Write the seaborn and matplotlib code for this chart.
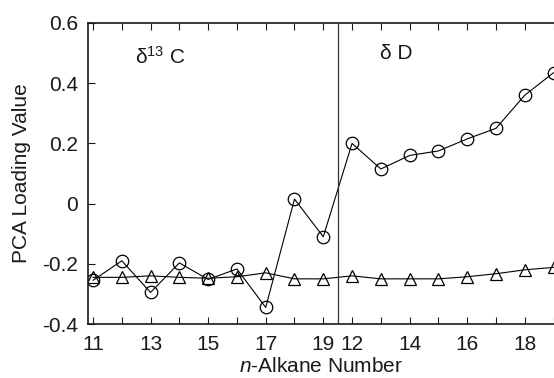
import matplotlib
matplotlib.use("Agg")
import matplotlib.pyplot as plt
import seaborn as sns
import pandas as pd
import numpy as np

# Data
c_numbers = [11, 12, 13, 14, 15, 16, 17, 18, 19]
d_numbers = [12, 13, 14, 15, 16, 17, 18, 19]
circle_c = [-0.255, -0.19, -0.295, -0.197, -0.252, -0.217, -0.345, 0.015, -0.11]
circle_d = [0.20, 0.115, 0.16, 0.175, 0.215, 0.25, 0.36, 0.435]
tri_c = [-0.245, -0.245, -0.24, -0.245, -0.248, -0.243, -0.23, -0.25, -0.25]
tri_d = [-0.24, -0.25, -0.25, -0.25, -0.243, -0.233, -0.22, -0.212]
tick_labels = ["11", "13", "15", "17", "19", "12", "14", "16", "18"]

sns.set_style("ticks")
plt.rcParams["font.family"] = ["Liberation Sans", "DejaVu Sans"]
plt.rcParams["mathtext.fontset"] = "custom"
plt.rcParams["mathtext.rm"] = "Liberation Sans"
plt.rcParams["mathtext.it"] = "Liberation Sans:italic"

labels_all = [str(n) for n in c_numbers] + [str(n) for n in d_numbers]
pos = np.arange(len(labels_all))
df = pd.DataFrame({
    "pos": np.concatenate([pos, pos]),
    "value": circle_c + circle_d + tri_c + tri_d,
    "series": ["circle"] * len(pos) + ["triangle"] * len(pos),
})

fig = plt.figure(figsize=(5.54, 3.78), dpi=100)
ax = fig.add_axes([88 / 554, 1 - 324 / 378, 1 - 88 / 554 + 0.001, (324 - 23) / 378])

for name, mk in [("circle", "o"), ("triangle", "^")]:
    sub = df[df["series"] == name]
    sns.lineplot(data=sub, x="pos", y="value", ax=ax, color="black", lw=0.8,
                 marker=mk, markersize=9, markerfacecolor="none",
                 markeredgecolor="black", markeredgewidth=0.9, legend=False)

ax.axvline(8.5, color="#333333", lw=0.9)

ax.set_xlim(-0.174, 16.035)
ax.set_ylim(-0.4, 0.6)
major = [0, 2, 4, 6, 8, 9, 11, 13, 15]
ax.set_xticks(major)
ax.set_xticklabels(tick_labels)
ax.set_xticks(pos, minor=True)
ax.set_yticks([-0.4, -0.2, 0, 0.2, 0.4, 0.6])
ax.set_yticklabels(["-0.4", "-0.2", "0", "0.2", "0.4", "0.6"])

ax.tick_params(axis="both", which="both", direction="in", length=5, width=0.8,
               labelsize=15, colors="#1a1a1a")
ax.tick_params(axis="x", which="both", top=True, pad=8)
ax.tick_params(axis="y", pad=7)
ax.spines["right"].set_visible(False)
for s in ["left", "bottom", "top"]:
    ax.spines[s].set_linewidth(1.2)
    ax.spines[s].set_color("#1a1a1a")

ax.set_xlabel("$n$-Alkane Number", fontsize=15, labelpad=2, color="#1a1a1a")
ax.set_ylabel("PCA Loading Value", fontsize=15, labelpad=8, color="#1a1a1a")

ax.text(1.45, 0.488, "δ$^{13}$ C", fontsize=15, ha="left", va="center", color="#1a1a1a")
ax.text(9.98, 0.5, "δ D", fontsize=15, ha="left", va="center", color="#1a1a1a")

fig.savefig("out.png", dpi=100)
